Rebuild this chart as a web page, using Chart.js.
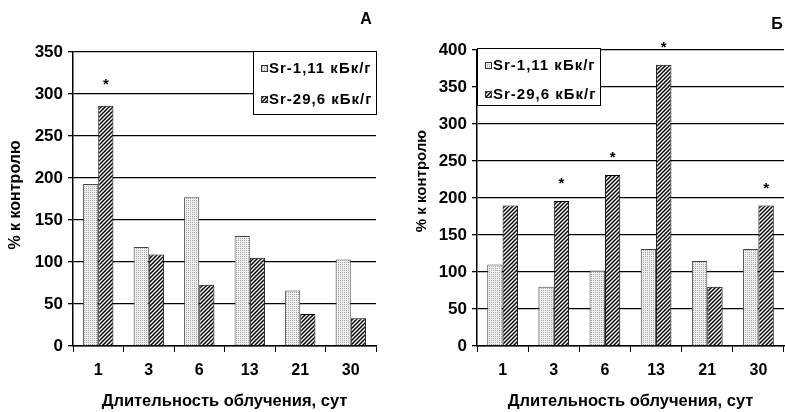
<!DOCTYPE html>
<html>
<head>
<meta charset="utf-8">
<script src="https://cdn.jsdelivr.net/npm/chart.js@4.4.1/dist/chart.umd.min.js"></script>
<style>
  html, body { margin: 0; padding: 0; background: #fff; }
  body { width: 785px; height: 412px; position: relative; overflow: hidden; }
  .panel { position: absolute; top: 0; width: 390px; height: 412px; }
</style>
</head>
<body>
<div class="panel" style="left:0"><canvas id="chartA"></canvas></div>
<div class="panel" style="left:395px"><canvas id="chartB"></canvas></div>
<script>
// exposure duration, days
const days = ['1', '3', '6', '13', '21', '30'];
const seriesNames = ['Sr-1,11 кБк/г', 'Sr-29,6 кБк/г'];

// panel А
const lowDoseA = [193, 118, 177, 131, 66, 103];
const highDoseA = [286, 109, 73, 105, 38, 33];
const starsA = ['*', '', '', '', '', ''];
const yMaxA = 350;

// panel Б
const lowDoseB = [110, 80, 102, 131, 115, 131];
const highDoseB = [190, 196, 231, 380, 80, 190];
const starsB = ['', '*', '*', '*', '', '*'];
const yMaxB = 400;

const yStep = 50;
const FONT = '"Liberation Sans", Arial, sans-serif';

function makePattern(kind) {
  const c = document.createElement('canvas');
  const g = c.getContext('2d');
  if (kind === 'dots') {
    c.width = 2; c.height = 2;
    g.fillStyle = '#efefef';
    g.fillRect(0, 0, 2, 2);
    g.fillStyle = '#a8a8a8';
    g.fillRect(0, 0, 1, 1);
  } else {
    c.width = 4; c.height = 4;
    g.fillStyle = '#fff';
    g.fillRect(0, 0, 4, 4);
    g.strokeStyle = '#000';
    g.lineWidth = 1.5;
    g.beginPath();
    g.moveTo(-1, 5); g.lineTo(5, -1);
    g.moveTo(-1, 1); g.lineTo(1, -1);
    g.moveTo(3, 5); g.lineTo(5, 3);
    g.stroke();
  }
  return g.createPattern(c, 'repeat');
}

const dotFill = makePattern('dots');
const hatchFill = makePattern('hatch');

// asterisks, in-plot legend, axis title and panel letter
const panelDecor = {
  id: 'panelDecor',
  afterDatasetsDraw(chart, args, o) {
    const ctx = chart.ctx;
    ctx.save();
    ctx.fillStyle = '#000';
    ctx.font = 'bold 15px ' + FONT;
    ctx.textAlign = 'center';
    ctx.textBaseline = 'middle';
    const meta = chart.getDatasetMeta(1);
    o.stars.forEach((s, i) => {
      if (!s) return;
      const bar = meta.data[i];
      ctx.fillText(s, bar.x, bar.y - o.starGap);
    });

    const b = o.box;
    ctx.fillStyle = '#fff';
    ctx.fillRect(b.x, b.y, b.w, b.h);
    ctx.strokeStyle = '#000';
    ctx.lineWidth = 1;
    ctx.strokeRect(b.x + 0.5, b.y + 0.5, b.w, b.h);
    ctx.font = 'bold 15px ' + FONT;
    ctx.textAlign = 'left';
    chart.data.datasets.forEach((ds, i) => {
      const cy = b.y + o.rows[i];
      ctx.fillStyle = ds.backgroundColor;
      ctx.fillRect(b.x + 8, cy - 3, 7, 7);
      ctx.strokeStyle = '#333';
      ctx.strokeRect(b.x + 8.5, cy - 2.5, 6, 6);
      ctx.fillStyle = '#000';
      ctx.letterSpacing = '1px';
      ctx.fillText(ds.label, b.x + 16, cy + 1);
      ctx.letterSpacing = '0px';
    });

    ctx.font = 'bold 16px ' + FONT;
    ctx.textAlign = 'center';
    ctx.fillText(o.letter, o.letterX, o.letterY);

    // vertical axis title
    ctx.save();
    ctx.translate(o.yTitleX, o.yTitleY);
    ctx.rotate(-Math.PI / 2);
    ctx.font = 'bold ' + o.yTitleSize + 'px ' + FONT;
    ctx.fillText('% к контролю', 0, 0);
    ctx.restore();
    ctx.restore();
  }
};

function buildChart(id, low, high, stars, yMax, layout) {
  return new Chart(document.getElementById(id), {
    type: 'bar',
    data: {
      labels: days,
      datasets: [
        { label: seriesNames[0], data: low, backgroundColor: dotFill, borderColor: '#444', borderWidth: 1 },
        { label: seriesNames[1], data: high, backgroundColor: hatchFill, borderColor: '#000', borderWidth: 1 }
      ]
    },
    options: {
      responsive: true,
      maintainAspectRatio: false,
      animation: false,
      layout: { padding: layout.padding },
      datasets: { bar: { categoryPercentage: 0.6, barPercentage: 1.0 } },
      plugins: {
        legend: { display: false },
        tooltip: { enabled: false },
        panelDecor: layout.decor
      },
      scales: {
        x: {
          grid: {
            offset: true,
            drawOnChartArea: true,
            tickLength: 6,
            color: c => c.index === days.length ? '#9a9a9a' : 'rgba(0,0,0,0)',
            tickColor: c => c.index === days.length ? '#9a9a9a' : '#000'
          },
          border: { display: true, color: '#000', width: 1.5 },
          ticks: { color: '#000', font: { family: FONT, size: 16, weight: 'bold' }, padding: 9, maxRotation: 0 },
          title: {
            display: true,
            text: 'Длительность облучения, сут',
            color: '#000',
            font: { family: FONT, size: 16.5, weight: 'bold' },
            padding: { top: 0, bottom: 1 }
          },
          afterFit: s => { s.height = 66; }
        },
        y: {
          min: 0,
          max: yMax,
          grid: { color: '#000', lineWidth: 1.3, tickLength: 5, tickColor: '#000' },
          border: { display: true, color: '#000', width: 1.5 },
          ticks: { stepSize: yStep, color: '#000', font: { family: FONT, size: 17, weight: 'bold' }, padding: 5 },
          afterFit: s => { s.width = layout.yWidth; }
        }
      }
    },
    plugins: [panelDecor]
  });
}

buildChart('chartA', lowDoseA, highDoseA, starsA, yMaxA, {
  padding: { left: 0, right: 14, top: 52, bottom: 0 },
  yWidth: 73,
  decor: {
    stars: starsA, starGap: 21,
    box: { x: 253, y: 51, w: 123, h: 63 },
    rows: [17, 48],
    letter: 'А', letterX: 366, letterY: 20,
    yTitleX: 16, yTitleY: 195, yTitleSize: 16
  }
});

buildChart('chartB', lowDoseB, highDoseB, starsB, yMaxB, {
  padding: { left: 0, right: 1, top: 50, bottom: 0 },
  yWidth: 82,
  decor: {
    stars: starsB, starGap: 17,
    box: { x: 82, y: 48, w: 123, h: 57 },
    rows: [17, 46],
    letter: 'Б', letterX: 382, letterY: 25,
    yTitleX: 27, yTitleY: 181, yTitleSize: 15
  }
});
</script>
</body>
</html>
